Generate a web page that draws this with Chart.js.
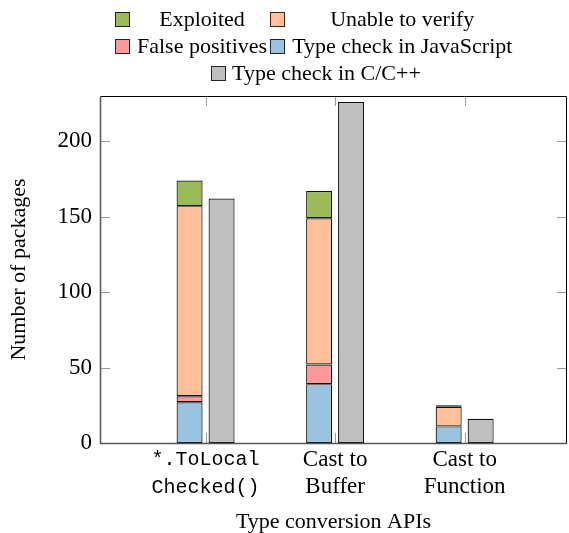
<!DOCTYPE html>
<html>
<head>
<meta charset="utf-8">
<script src="https://cdn.jsdelivr.net/npm/chart.js@4.4.1/dist/chart.umd.min.js"></script>
<style>
  body { margin: 0; background: #fff; }
  #wrap { position: relative; width: 569px; height: 533px; }
  #legend { position: absolute; left: 115px; top: 5px; font-family: 'Liberation Serif', 'Times New Roman', serif; font-size: 22px; color: #000; }
  #legend table { border-collapse: collapse; }
  #legend td { padding: 0; height: 27px; white-space: nowrap; }
  #legend td.txt { text-align: center; padding-right: 3px; }
  #legend td.bx { padding-right: 7px; }
  #legend .box { display: inline-block; width: 13px; height: 13px; border: 1px solid rgba(0,0,0,0.8); vertical-align: -1px; }
  #legend .last { position: absolute; left: 96px; top: 54px; height: 27px; line-height: 27px; white-space: nowrap; }
  #legend .last .box { margin-right: 6px; }
</style>
</head>
<body>
<div id="wrap">
  <canvas id="chart" width="569" height="533"></canvas>
  <div id="legend"></div>
</div>
<script>
const categories = [['*.ToLocal', 'Checked()'], ['Cast to', 'Buffer'], ['Cast to', 'Function']];
const typeCheckJs = [27, 39, 11];
const falsePositives = [4, 13, 0];
const unableToVerify = [126, 97, 13];
const exploited = [17, 18, 1];
const typeCheckC = [162, 226, 16];
const yTicks = [0, 50, 100, 150, 200];

const serif = "'Liberation Serif', 'Times New Roman', serif";
const mono = "'Liberation Mono', 'Courier New', monospace";

// legend shows the stack top-down, C/C++ last
const legendOrder = [3, 2, 1, 0, 4];

function points(values) {
    return values.map((v, i) => ({ x: i, y: v }));
}

function bar(label, values, color, stack) {
    return {
        label: label,
        data: points(values),
        backgroundColor: color,
        borderColor: '#111',
        borderWidth: 1.2,
        borderSkipped: false,
        stack: stack,
        categoryPercentage: 0.494,
        barPercentage: 0.8125
    };
}

const axisTicks = {
    id: 'axisTicks',
    beforeDatasetsDraw(chart) {
        const { ctx, chartArea: a, scales: { x, y } } = chart;
        ctx.save();
        ctx.strokeStyle = '#9a9a9a';
        ctx.lineWidth = 1;
        ctx.beginPath();
        y.ticks.forEach(t => {
            const py = Math.round(y.getPixelForValue(t.value)) + 0.5;
            ctx.moveTo(a.left, py); ctx.lineTo(a.left + 10, py);
            ctx.moveTo(a.right, py); ctx.lineTo(a.right - 10, py);
        });
        x.ticks.forEach(t => {
            const px = Math.round(x.getPixelForValue(t.value)) + 0.5;
            ctx.moveTo(px, a.top); ctx.lineTo(px, a.top + 10);
            ctx.moveTo(px, a.bottom); ctx.lineTo(px, a.bottom - 10);
        });
        ctx.stroke();
        ctx.restore();
    },
    afterDatasetsDraw(chart) {
        const { ctx, chartArea: a } = chart;
        const l = Math.round(a.left) + 0.5, r = Math.round(a.right) - 0.5;
        const t = Math.round(a.top) + 0.5, b = Math.round(a.bottom) + 0.5;
        ctx.save();
        ctx.lineWidth = 1;
        ctx.strokeStyle = '#000';
        ctx.beginPath();
        ctx.moveTo(l, t); ctx.lineTo(r, t); ctx.lineTo(r, b);
        ctx.stroke();
        ctx.strokeStyle = '#555';
        ctx.lineWidth = 1.5;
        ctx.beginPath();
        ctx.moveTo(l, t); ctx.lineTo(l, b); ctx.lineTo(r, b);
        ctx.stroke();
        ctx.restore();
    }
};

const chart = new Chart(document.getElementById('chart'), {
    type: 'bar',
    data: {
        datasets: [
            bar('Type check in JavaScript', typeCheckJs, '#9ac3df', 'js'),
            bar('False positives', falsePositives, '#ff9999', 'js'),
            bar('Unable to verify', unableToVerify, '#ffbf99', 'js'),
            bar('Exploited', exploited, '#9bbb59', 'js'),
            bar('Type check in C/C++', typeCheckC, '#bfbfbf', 'c')
        ]
    },
    options: {
        responsive: false,
        animation: false,
        layout: { padding: { top: 96, right: 2, left: 0, bottom: 0 } },
        plugins: { legend: { display: false }, tooltip: { enabled: false } },
        scales: {
            x: {
                type: 'linear',
                min: -0.815,
                max: 2.79,
                offset: false,
                grid: { display: false, drawTicks: false, offset: false },
                border: { display: false },
                afterBuildTicks: scale => { scale.ticks = categories.map((c, i) => ({ value: i })); },
                afterFit: scale => { scale.height = 90; },
                ticks: {
                    padding: 3,
                    color: '#000',
                    maxRotation: 0,
                    autoSkip: false,
                    callback: v => categories[v],
                    font: c => ({ family: c.index === 0 ? mono : serif, size: c.index === 0 ? 20 : 23, lineHeight: c.index === 0 ? 1.38 : 1.2 })
                },
                title: {
                    display: true,
                    text: 'Type conversion APIs',
                    color: '#000',
                    padding: 0,
                    font: { family: serif, size: 22, lineHeight: 1.0 }
                }
            },
            y: {
                stacked: true,
                min: 0,
                max: 230,
                grid: { display: false, drawTicks: false },
                border: { display: false },
                afterBuildTicks: scale => { scale.ticks = yTicks.map(v => ({ value: v })); },
                afterFit: scale => { scale.width = 100; },
                ticks: { padding: 8, color: '#000', font: { family: serif, size: 23 } },
                title: {
                    display: true,
                    text: 'Number of packages',
                    color: '#000',
                    padding: { top: 8, bottom: 0 },
                    font: { family: serif, size: 22, lineHeight: 1.0 }
                }
            }
        }
    },
    plugins: [axisTicks]
});

function buildLegend(chart) {
    const items = Chart.defaults.plugins.legend.labels.generateLabels(chart);
    const byIndex = {};
    items.forEach(it => { byIndex[it.datasetIndex] = it; });
    const cell = it => `<td class="bx"><span class="box" style="background:${it.fillStyle}"></span></td><td class="txt">${it.text}</td>`;
    const o = legendOrder.map(i => byIndex[i]);
    const el = document.getElementById('legend');
    el.innerHTML = `<table>
        <tr>${cell(o[0])}${cell(o[1])}</tr>
        <tr>${cell(o[2])}${cell(o[3])}</tr>
    </table>
    <div class="last"><span class="box" style="background:${o[4].fillStyle}"></span>${o[4].text}</div>`;
}
buildLegend(chart);
</script>
</body>
</html>
